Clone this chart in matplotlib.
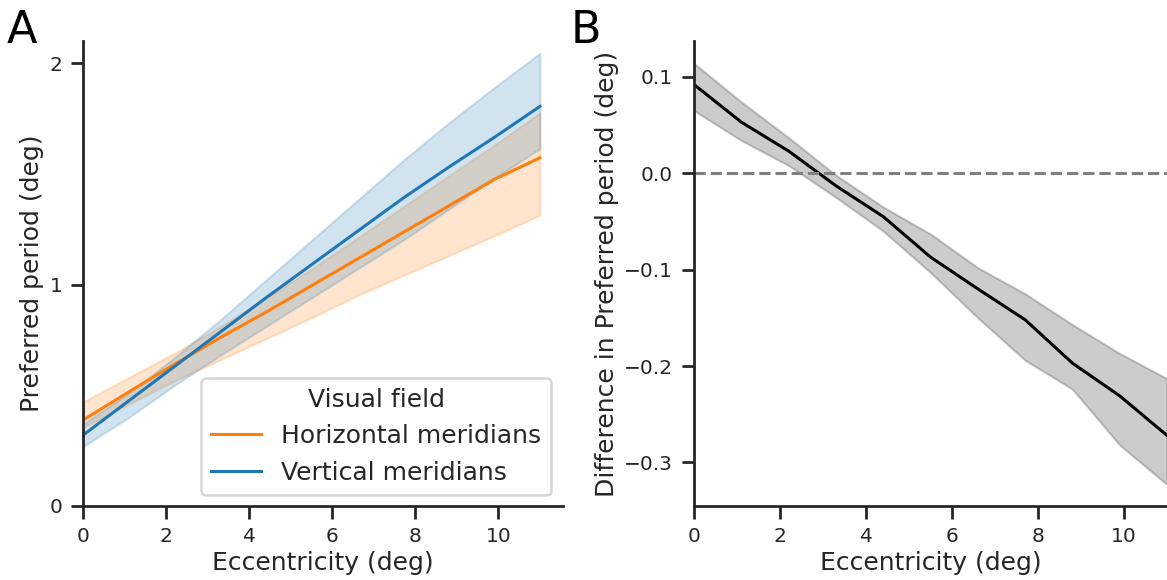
import matplotlib
matplotlib.use("Agg")
import matplotlib.pyplot as plt
import numpy as np

# ---------------- data ----------------
eccentricity = [0.0, 1.1, 2.2, 3.3, 4.4, 5.5, 6.6, 7.7, 8.8, 9.9, 11.0]

horiz_mean = [0.388, 0.515, 0.640, 0.760, 0.875, 0.995, 1.115, 1.235, 1.355, 1.475, 1.573]
horiz_low = [0.355, 0.460, 0.565, 0.660, 0.755, 0.850, 0.950, 1.040, 1.130, 1.220, 1.313]
horiz_high = [0.470, 0.580, 0.690, 0.810, 0.940, 1.070, 1.210, 1.350, 1.490, 1.630, 1.775]

vert_mean = [0.320, 0.475, 0.630, 0.785, 0.940, 1.090, 1.240, 1.390, 1.530, 1.665, 1.805]
vert_low = [0.268, 0.400, 0.545, 0.680, 0.810, 0.940, 1.070, 1.200, 1.340, 1.480, 1.614]
vert_high = [0.370, 0.510, 0.670, 0.840, 1.020, 1.200, 1.380, 1.560, 1.730, 1.890, 2.045]

diff_mean = [0.092, 0.053, 0.023, -0.013, -0.045, -0.087, -0.120, -0.152, -0.197, -0.231, -0.272]
diff_low = [0.065, 0.034, 0.008, -0.025, -0.060, -0.103, -0.150, -0.194, -0.224, -0.282, -0.323]
diff_high = [0.114, 0.074, 0.037, -0.002, -0.035, -0.063, -0.098, -0.125, -0.157, -0.187, -0.213]

series_labels = ["Horizontal meridians", "Vertical meridians"]
legend_title = "Visual field"
panel_A_yticks = [0, 1, 2]
panel_B_yticks = [0.1, 0.0, -0.1, -0.2, -0.3]
xticks = [0, 2, 4, 6, 8, 10]

# ---------------- style ----------------
dark = "#262626"
plt.rcParams.update({
    "font.family": ["DejaVu Sans"],
    "text.color": dark,
    "axes.labelcolor": dark,
    "xtick.color": dark,
    "ytick.color": dark,
    "axes.edgecolor": dark,
})

fig = plt.figure(figsize=(11.67, 5.80), dpi=100)
axA = fig.add_axes([0.0714, 0.128, 0.4108, 0.801])
axB = fig.add_axes([0.5947, 0.128, 0.4053, 0.801])

orange = "#ff7f0e"
blue = "#1f77b4"

x = np.array(eccentricity)

for mean, lo, hi, col, lab in [
    (horiz_mean, horiz_low, horiz_high, orange, series_labels[0]),
    (vert_mean, vert_low, vert_high, blue, series_labels[1]),
]:
    axA.fill_between(x, lo, hi, color=col, alpha=0.2, linewidth=1.5)
    axA.plot(x, mean, color=col, lw=2.2, label=lab)

axA.set_xlim(0, 11.55)
axA.set_ylim(0, 2.1)
axA.set_yticks(panel_A_yticks)
axA.set_xticks(xticks)
axA.set_xlabel("Eccentricity (deg)", fontsize=18)
axA.set_ylabel("Preferred period (deg)", fontsize=18)
leg = axA.legend(title=legend_title, loc="lower right", fontsize=18,
                 title_fontsize=18, frameon=True, fancybox=True,
                 borderaxespad=0.45)
leg.get_frame().set_edgecolor("#cccccc")
leg.get_frame().set_linewidth(1.8)
for t in leg.get_texts():
    t.set_color(dark)
leg.get_title().set_color(dark)

axB.fill_between(x, diff_low, diff_high, color="k", alpha=0.2, linewidth=1.5)
axB.plot(x, diff_mean, color="k", lw=2.2)
axB.axhline(0, color="#808080", ls="--", lw=2.2, clip_on=False)
axB.set_xlim(0, 11)
axB.set_ylim(-0.345, 0.137)
axB.set_yticks(panel_B_yticks)
axB.set_yticklabels(["0.1", "0.0", "\u22120.1", "\u22120.2", "\u22120.3"])
axB.set_xticks(xticks)
axB.set_xlabel("Eccentricity (deg)", fontsize=18)
axB.set_ylabel("Difference in Preferred period (deg)", fontsize=18)

for ax in (axA, axB):
    ax.spines["top"].set_visible(False)
    ax.spines["right"].set_visible(False)
    for s in ("left", "bottom"):
        ax.spines[s].set_linewidth(2.0)
    ax.tick_params(axis="both", which="major", labelsize=14.5, width=2.0,
                   length=9, pad=6)

fig.text(0.006, 0.985, "A", fontsize=32, va="top", ha="left", color="black")
fig.text(0.489, 0.985, "B", fontsize=32, va="top", ha="left", color="black")

fig.savefig("out.png", dpi=100)
